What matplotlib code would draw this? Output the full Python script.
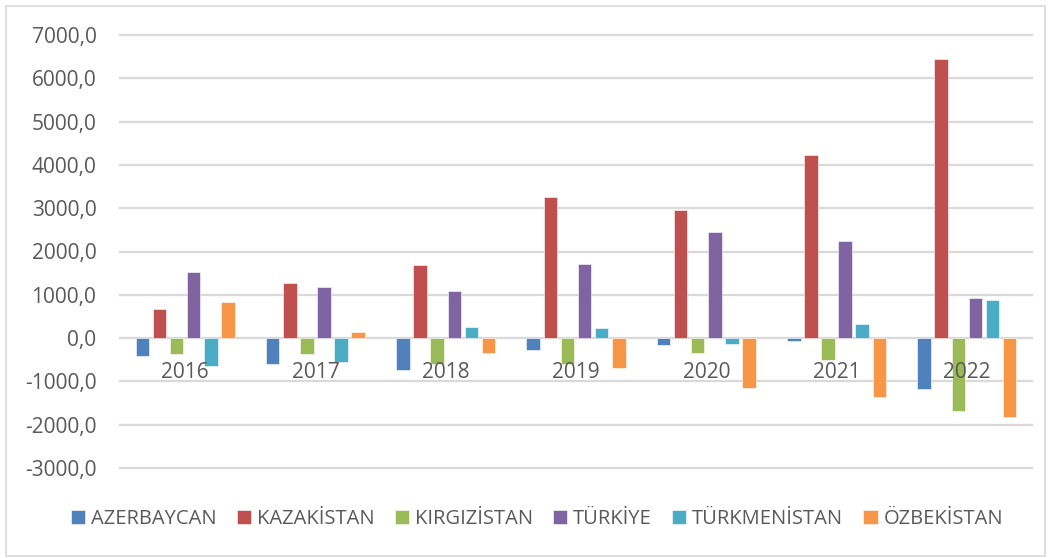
import matplotlib
matplotlib.use("Agg")
import matplotlib.pyplot as plt
import matplotlib.transforms as mtransforms
from matplotlib.patches import Rectangle
import numpy as np

years = ["2016", "2017", "2018", "2019", "2020", "2021", "2022"]
countries = ["AZERBAYCAN", "KAZAKİSTAN", "KIRGIZİSTAN", "TÜRKİYE", "TÜRKMENİSTAN", "ÖZBEKİSTAN"]
azerbaycan   = [-420, -600, -740, -280, -150, -70, -1180]
kazakistan   = [670, 1280, 1680, 3260, 2960, 4240, 6450]
kirgizistan  = [-370, -360, -600, -590, -350, -515, -1680]
turkiye      = [1520, 1180, 1090, 1720, 2450, 2250, 920]
turkmenistan = [-640, -560, 250, 230, -130, 315, 870]
ozbekistan   = [840, 130, -350, -685, -1160, -1370, -1820]
y_ticks = [-3000, -2000, -1000, 0, 1000, 2000, 3000, 4000, 5000, 6000, 7000]

series = [azerbaycan, kazakistan, kirgizistan, turkiye, turkmenistan, ozbekistan]
colors = ["#4F81BD", "#C0504D", "#9BBB59", "#8064A2", "#4BACC6", "#F79646"]

plt.rcParams['font.family'] = ['Open Sans', 'DejaVu Sans']
text_color = "#595959"
grid_color = "#D9D9D9"

W, H = 1051, 558
fig = plt.figure(figsize=(W / 100, H / 100), dpi=100)
ax = fig.add_axes([120 / W, 1 - 468 / H, (1032 - 120) / W, (468 - 35) / H])

x = np.arange(len(years))
step = 0.1315
bw = 0.104
n = len(series)
for i, (vals, c, name) in enumerate(zip(series, colors, countries)):
    off = (i - (n - 1) / 2) * step
    ax.bar(x + off, vals, width=bw, color=c, label=name, zorder=3,
           edgecolor="white", linewidth=0.4)

ax.set_xlim(-0.5, len(years) - 0.5)
ax.set_ylim(y_ticks[0], y_ticks[-1])
for v in y_ticks:
    ax.axhline(v, color=grid_color, linewidth=1.6, zorder=1, clip_on=False)

ax.set_yticks(y_ticks)
ax.set_yticklabels([f"{v:.1f}".replace('.', ',') for v in y_ticks])
ax.tick_params(axis='y', length=0, pad=17, labelsize=15, labelcolor=text_color)
ax.set_xticks([])
for s in ax.spines.values():
    s.set_visible(False)

trans = mtransforms.offset_copy(ax.transData, fig=fig, x=0, y=-40, units='dots')
for xi, lab in zip(x, years):
    ax.text(xi, 0, lab, transform=trans, ha='center', va='baseline',
            fontsize=15, color=text_color, zorder=5)

leg = fig.legend(loc='center', bbox_to_anchor=(0.511, 1 - 519 / H), ncol=6,
                 frameon=False, fontsize=14.5, handlelength=0.7, handleheight=0.7,
                 handletextpad=0.3, columnspacing=1.0, labelcolor=text_color)

fig.patches.append(Rectangle((6 / W, 1 - 556 / H), (1045 - 6) / W, (556 - 6) / H,
                             transform=fig.transFigure, fill=False,
                             edgecolor=grid_color, linewidth=1.2))

fig.savefig("out.png", dpi=100)
